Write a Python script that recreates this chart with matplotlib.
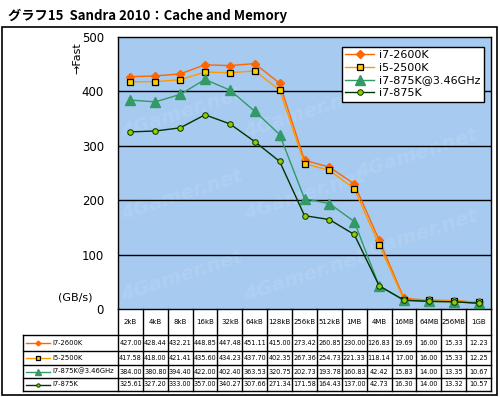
import numpy as np
import matplotlib
matplotlib.use("Agg")
import matplotlib.pyplot as plt
from matplotlib.lines import Line2D
from matplotlib.patches import Rectangle

plt.rcParams['font.family'] = ['DejaVu Sans', 'Noto Sans CJK JP']

sizes = ['2kB', '4kB', '8kB', '16kB', '32kB', '64kB', '128kB', '256kB', '512kB',
         '1MB', '4MB', '16MB', '64MB', '256MB', '1GB']
names = ['i7-2600K', 'i5-2500K', 'i7-875K@3.46GHz', 'i7-875K']
i7_2600k = [427.00, 428.44, 432.21, 448.85, 447.48, 451.11, 415.00, 273.42, 260.85,
            230.00, 126.83, 19.69, 16.00, 15.33, 12.23]
i5_2500k = [417.58, 418.00, 421.41, 435.60, 434.23, 437.70, 402.35, 267.36, 254.73,
            221.33, 118.14, 17.00, 16.00, 15.33, 12.25]
i7_875k_oc = [384.00, 380.80, 394.40, 422.00, 402.40, 363.53, 320.75, 202.73, 193.78,
              160.83, 42.42, 15.83, 14.00, 13.35, 10.67]
i7_875k = [325.61, 327.20, 333.00, 357.00, 340.27, 307.66, 271.34, 171.58, 164.43,
           137.00, 42.73, 16.30, 14.00, 13.32, 10.57]
yticks = [0, 100, 200, 300, 400, 500]

series = [i7_2600k, i5_2500k, i7_875k_oc, i7_875k]
styles = [dict(color='#ff6600', marker='D', ms=4, mfc='#ff6600', mec='#ff6600'),
          dict(color='#ff9900', marker='s', ms=5, mfc='#ffcc00', mec='black', mew=0.9),
          dict(color='#339966', marker='^', ms=7, mfc='#339966', mec='#339966'),
          dict(color='#003300', marker='o', ms=4, mfc='#99cc00', mec='#003300', mew=0.7)]

W, H = 500, 397
fig = plt.figure(figsize=(W / 100, H / 100), dpi=100)
fig.patch.set_facecolor('white')

# outer frame
fig.add_artist(Rectangle((2 / W, 2 / H), 495 / W, 368 / H, transform=fig.transFigure,
                         fill=False, ec='black', lw=1.2))
fig.text(8 / W, 1 - 16 / H, 'グラフ15  Sandra 2010：Cache and Memory',
         family=['Noto Sans CJK JP', 'DejaVu Sans'], fontsize=9.5, weight='bold', va='center')

left, right, top, bottom = 118, 491, 37, 309
ax = fig.add_axes([left / W, 1 - bottom / H, (right - left) / W, (bottom - top) / H])
ax.set_facecolor('#a6caf0')
x = np.arange(len(sizes))
ax.set_xlim(-0.5, len(sizes) - 0.5)
ax.set_ylim(0, 500)

# faint watermark (kept inside the plot)
wm = [(0.17, 0.12), (0.5, 0.12), (0.17, 0.42), (0.5, 0.42), (0.17, 0.72),
      (0.5, 0.72), (0.8, 0.27), (0.8, 0.57)]
for xx, yy in wm:
    ax.text(xx, yy, '4Gamer.net', transform=ax.transAxes, rotation=18, fontsize=14,
            weight='bold', style='italic', color='#afd0f2', ha='center', va='center', zorder=0)

for v in yticks[1:-1]:
    ax.axhline(v, color='black', lw=1, zorder=1)
for vals, name, st in zip(series, names, styles):
    ax.plot(x, vals, lw=1, label=name, zorder=3, **st)

ax.set_xticks([])
ax.set_yticks(yticks)
ax.tick_params(axis='y', length=0, pad=10, labelsize=8.5)
for s in ax.spines.values():
    s.set_color('black')
    s.set_linewidth(1)

leg = ax.legend(loc='upper right', bbox_to_anchor=(0.995, 0.985), fontsize=8,
                frameon=True, fancybox=False, edgecolor='black', framealpha=1,
                handlelength=2.6, borderpad=0.3, labelspacing=0.25, handletextpad=0.4)
leg.get_frame().set_linewidth(1)
leg.set_zorder(5)

fig.text(77 / W, 1 - 58 / H, '→Fast', rotation=90, ha='center', va='center', fontsize=8)
fig.text(75 / W, 1 - 298 / H, '(GB/s)', ha='center', va='center', fontsize=8)

# data table under the plot
cw = (right - left) / len(sizes)
rows_y = [309, 335, 351, 365, 378, 391]
lab_left = 23
def fx(px):
    return px / W
def fy(py):
    return 1 - py / H

for i in range(len(sizes) + 1):
    xp = left + i * cw
    fig.add_artist(Line2D([fx(xp), fx(xp)], [fy(rows_y[0]), fy(rows_y[-1])], color='black', lw=1))
for yp in rows_y[1:]:
    fig.add_artist(Line2D([fx(lab_left), fx(right)], [fy(yp), fy(yp)], color='black', lw=1))
fig.add_artist(Line2D([fx(lab_left), fx(lab_left)], [fy(rows_y[1]), fy(rows_y[-1])], color='black', lw=1))

for i, s in enumerate(sizes):
    fig.text(fx(left + (i + 0.5) * cw), fy((rows_y[0] + rows_y[1]) / 2), s,
             ha='center', va='center', fontsize=5.0)
for r, (vals, name, st) in enumerate(zip(series, names, styles)):
    yc = fy((rows_y[r + 1] + rows_y[r + 2]) / 2)
    st2 = dict(st)
    st2['ms'] = st2['ms'] * 0.6
    fig.add_artist(Line2D([fx(26), fx(38), fx(50)], [yc, yc, yc], lw=1, markevery=[1], **st2))
    fig.text(fx(52), yc, name, ha='left', va='center', fontsize=4.9)
    for i, v in enumerate(vals):
        fig.text(fx(left + (i + 0.5) * cw), yc, '%.2f' % v, ha='center', va='center', fontsize=4.7)

fig.savefig('out.png', dpi=100)
